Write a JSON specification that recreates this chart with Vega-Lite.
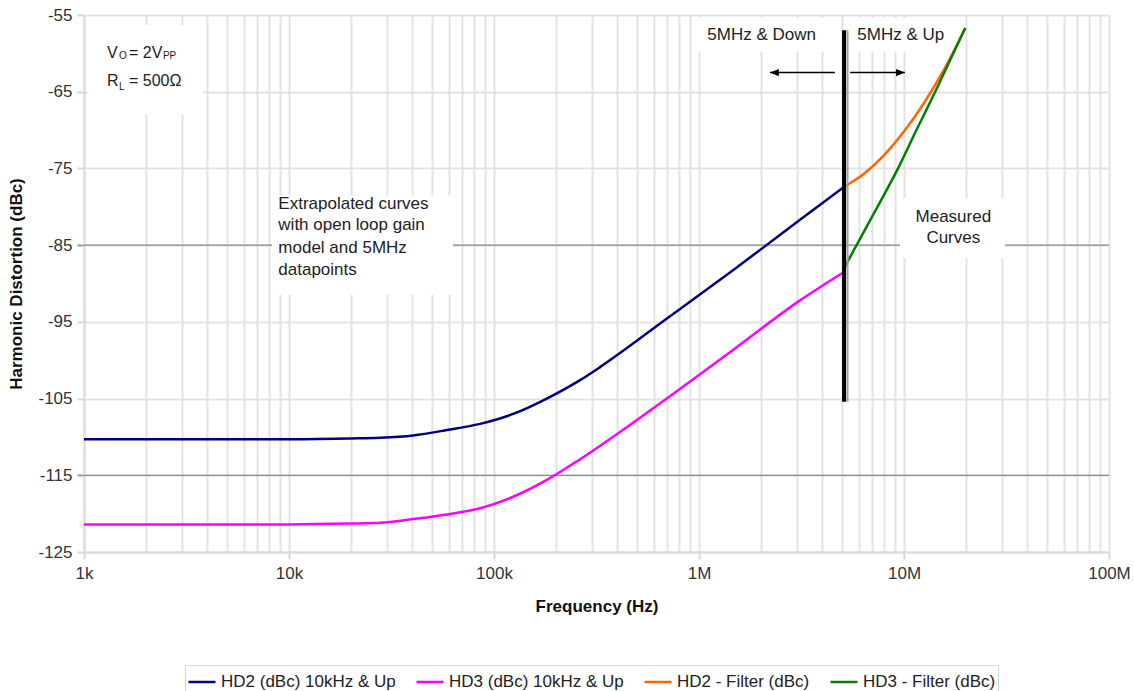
{
"$schema":"https://vega.github.io/schema/vega-lite/v6.json",
"width":1025,"height":537,
"autosize":{"type":"none"},
"padding":{"left":84,"top":15,"right":25,"bottom":139},
"background":"white",
"config":{"view":{"stroke":null},"font":"Liberation Sans"},
"datasets":{
"curves":[
{"series":"HD2 (dBc) 10kHz & Up","f":1000,"db":-110.3},
{"series":"HD2 (dBc) 10kHz & Up","f":3000,"db":-110.3},
{"series":"HD2 (dBc) 10kHz & Up","f":10000,"db":-110.3},
{"series":"HD2 (dBc) 10kHz & Up","f":20000,"db":-110.2},
{"series":"HD2 (dBc) 10kHz & Up","f":27800,"db":-110.1},
{"series":"HD2 (dBc) 10kHz & Up","f":40300,"db":-109.8},
{"series":"HD2 (dBc) 10kHz & Up","f":59000,"db":-109.1},
{"series":"HD2 (dBc) 10kHz & Up","f":85500,"db":-108.3},
{"series":"HD2 (dBc) 10kHz & Up","f":124000,"db":-107.0},
{"series":"HD2 (dBc) 10kHz & Up","f":181000,"db":-105.0},
{"series":"HD2 (dBc) 10kHz & Up","f":263000,"db":-102.6},
{"series":"HD2 (dBc) 10kHz & Up","f":329000,"db":-100.9},
{"series":"HD2 (dBc) 10kHz & Up","f":695000,"db":-94.6},
{"series":"HD2 (dBc) 10kHz & Up","f":1460000,"db":-88.3},
{"series":"HD2 (dBc) 10kHz & Up","f":3110000,"db":-81.7},
{"series":"HD2 (dBc) 10kHz & Up","f":5100000,"db":-77.4},
{"series":"HD3 (dBc) 10kHz & Up","f":1000,"db":-121.4},
{"series":"HD3 (dBc) 10kHz & Up","f":3000,"db":-121.4},
{"series":"HD3 (dBc) 10kHz & Up","f":10000,"db":-121.4},
{"series":"HD3 (dBc) 10kHz & Up","f":20000,"db":-121.3},
{"series":"HD3 (dBc) 10kHz & Up","f":27800,"db":-121.2},
{"series":"HD3 (dBc) 10kHz & Up","f":40300,"db":-120.7},
{"series":"HD3 (dBc) 10kHz & Up","f":59000,"db":-120.1},
{"series":"HD3 (dBc) 10kHz & Up","f":85500,"db":-119.3},
{"series":"HD3 (dBc) 10kHz & Up","f":124000,"db":-117.8},
{"series":"HD3 (dBc) 10kHz & Up","f":181000,"db":-115.6},
{"series":"HD3 (dBc) 10kHz & Up","f":263000,"db":-112.9},
{"series":"HD3 (dBc) 10kHz & Up","f":610000,"db":-106.1},
{"series":"HD3 (dBc) 10kHz & Up","f":1460000,"db":-98.7},
{"series":"HD3 (dBc) 10kHz & Up","f":3110000,"db":-92.2},
{"series":"HD3 (dBc) 10kHz & Up","f":5100000,"db":-88.5},
{"series":"HD2 - Filter (dBc)","f":5100000,"db":-77.4},
{"series":"HD2 - Filter (dBc)","f":6380000,"db":-75.7},
{"series":"HD2 - Filter (dBc)","f":7980000,"db":-73.3},
{"series":"HD2 - Filter (dBc)","f":10000000,"db":-70.2},
{"series":"HD2 - Filter (dBc)","f":12500000,"db":-66.5},
{"series":"HD2 - Filter (dBc)","f":15700000,"db":-62.1},
{"series":"HD2 - Filter (dBc)","f":19900000,"db":-56.7},
{"series":"HD3 - Filter (dBc)","f":5100000,"db":-88.0},
{"series":"HD3 - Filter (dBc)","f":6820000,"db":-81.8},
{"series":"HD3 - Filter (dBc)","f":9350000,"db":-75.0},
{"series":"HD3 - Filter (dBc)","f":11500000,"db":-70.0},
{"series":"HD3 - Filter (dBc)","f":14200000,"db":-65.0},
{"series":"HD3 - Filter (dBc)","f":19900000,"db":-56.7}
],
"boxes":[
{"f1":1050,"f2":3800,"d1":-56.3,"d2":-68.0},
{"f1":8260,"f2":63000,"d1":-78.5,"d2":-91.5},
{"f1":9550000,"f2":31100000,"d1":-78.9,"d2":-86.7},
{"f1":935000,"f2":4770000,"d1":-55.4,"d2":-59.8},
{"f1":5330000,"f2":18700000,"d1":-55.4,"d2":-59.8}
],
"rules":[{"db":-85},{"db":-115}],
"vline":[{"f":5100000,"d1":-57.0,"d2":-105.4}],
"arrows":[
{"f1":2220000,"f2":4600000,"db":-62.5,"dir":"left"},
{"f1":5460000,"f2":10100000,"db":-62.5,"dir":"right"}
],
"notes":[
{"t":"5MHz & Down","f":2020000,"db":-57.6,"g":"center"},
{"t":"5MHz & Up","f":9640000,"db":-57.6,"g":"center"},
{"t":"Measured","f":17400000,"db":-81.3,"g":"center"},
{"t":"Curves","f":17400000,"db":-84.1,"g":"center"},
{"t":"Extrapolated curves","f":8870,"db":-79.6,"g":"left"},
{"t":"with open loop gain","f":8870,"db":-82.4,"g":"left"},
{"t":"model and 5MHz","f":8870,"db":-85.4,"g":"left"},
{"t":"datapoints","f":8870,"db":-88.3,"g":"left"},
{"t":"V","f":1295,"db":-59.9,"g":"main"},
{"t":"O","f":1480,"db":-60.4,"g":"sub"},
{"t":"= 2V","f":1658,"db":-59.9,"g":"main"},
{"t":"PP","f":2427,"db":-60.4,"g":"sub"},
{"t":"R","f":1295,"db":-63.6,"g":"main"},
{"t":"L","f":1480,"db":-64.4,"g":"sub"},
{"t":"= 500Ω","f":1658,"db":-63.6,"g":"main"}
]
},
"layer":[
{"data":{"name":"rules"},"mark":{"type":"rule","color":"#8c8c8c","strokeWidth":1.3},
 "encoding":{"y":{"field":"db","type":"quantitative","scale":{"domain":[-125,-55],"nice":false,"zero":false}}}},
{"data":{"name":"boxes"},"mark":{"type":"rect","color":"white"},
 "encoding":{"x":{"field":"f1","type":"quantitative","scale":{"type":"log","domain":[1000,100000000],"nice":false}},"x2":{"field":"f2"},
 "y":{"field":"d1","type":"quantitative","scale":{"domain":[-125,-55],"nice":false,"zero":false}},"y2":{"field":"d2"}}},
{"data":{"name":"curves"},"mark":{"type":"line","strokeWidth":2.5,"interpolate":"monotone"},
 "encoding":{
 "x":{"field":"f","type":"quantitative","scale":{"type":"log","domain":[1000,100000000],"nice":false},
  "axis":{"values":[1000,2000,3000,4000,5000,6000,7000,8000,9000,10000,20000,30000,40000,50000,60000,70000,80000,90000,100000,200000,300000,400000,500000,600000,700000,800000,900000,1000000,2000000,3000000,4000000,5000000,6000000,7000000,8000000,9000000,10000000,20000000,30000000,40000000,50000000,60000000,70000000,80000000,90000000,100000000],
  "labelExpr":"datum.value==1000?'1k':datum.value==10000?'10k':datum.value==100000?'100k':datum.value==1000000?'1M':datum.value==10000000?'10M':datum.value==100000000?'100M':''",
  "grid":true,"gridColor":"#e3e3e3","gridWidth":2,
  "tickSize":7,"tickColor":"#d6d6d6","tickWidth":2,
  "tickOpacity":{"condition":{"test":"indexof([1000,10000,100000,1000000,10000000,100000000], datum.value) >= 0","value":1},"value":0},
  "domainColor":"#dcdcdc","domainWidth":2,
  "labelFontSize":17,"labelColor":"#333","labelPadding":6,"labelFlush":false,"labelOverlap":false,
  "title":"Frequency (Hz)","titleFontSize":17,"titleFontWeight":"bold","titleColor":"#111","titlePadding":17}},
 "y":{"field":"db","type":"quantitative","scale":{"domain":[-125,-55],"nice":false,"zero":false},
  "axis":{"values":[-125,-115,-105,-95,-85,-75,-65,-55],
  "labelExpr":"'' + datum.value",
  "grid":true,"gridColor":"#e3e3e3","gridWidth":2,
  "tickSize":7,"tickWidth":2,
  "tickColor":{"condition":{"test":"datum.value==-85 || datum.value==-115","value":"#999999"},"value":"#d6d6d6"},
  "domainColor":"#dcdcdc","domainWidth":2,
  "labelFontSize":17,"labelColor":"#333","labelPadding":5,"labelFlush":false,
  "title":"Harmonic Distortion (dBc)","titleFontSize":17,"titleFontWeight":"bold","titleColor":"#111","titlePadding":12}},
 "color":{"field":"series","type":"nominal",
  "scale":{"domain":["HD2 (dBc) 10kHz & Up","HD3 (dBc) 10kHz & Up","HD2 - Filter (dBc)","HD3 - Filter (dBc)"],"range":["#000080","#ff00ff","#ff6600","#008000"]},
  "legend":{"orient":"none","legendX":101,"legendY":650,"direction":"horizontal","title":null,
   "symbolType":"stroke","symbolSize":729,"symbolStrokeWidth":2.5,
   "labelFontSize":17,"labelColor":"#222","labelOffset":4,"columnPadding":15,"padding":2,
   "strokeColor":"#d6d6d6","fillColor":"white","labelLimit":300}}
 }},
{"data":{"name":"vline"},"mark":{"type":"rule","color":"#a0a0a0","strokeWidth":2,"xOffset":3.5},
 "encoding":{"x":{"field":"f","type":"quantitative","scale":{"type":"log","domain":[1000,100000000],"nice":false}},
 "y":{"field":"d1","type":"quantitative","scale":{"domain":[-125,-55],"nice":false,"zero":false}},"y2":{"field":"d2"}}},
{"data":{"name":"vline"},"mark":{"type":"rule","color":"black","strokeWidth":4},
 "encoding":{"x":{"field":"f","type":"quantitative","scale":{"type":"log","domain":[1000,100000000],"nice":false}},
 "y":{"field":"d1","type":"quantitative","scale":{"domain":[-125,-55],"nice":false,"zero":false}},"y2":{"field":"d2"}}},
{"data":{"name":"arrows"},"mark":{"type":"rule","color":"black","strokeWidth":1.6},
 "encoding":{"x":{"field":"f1","type":"quantitative","scale":{"type":"log","domain":[1000,100000000],"nice":false}},"x2":{"field":"f2"},
 "y":{"field":"db","type":"quantitative","scale":{"domain":[-125,-55],"nice":false,"zero":false}}}},
{"data":{"name":"arrows"},"transform":[{"filter":"datum.dir=='left'"}],
 "mark":{"type":"point","shape":"M0,0L2.2,-0.9L2.2,0.9Z","filled":true,"color":"black","size":64,"opacity":1},
 "encoding":{"x":{"field":"f1","type":"quantitative","scale":{"type":"log","domain":[1000,100000000],"nice":false}},
 "y":{"field":"db","type":"quantitative","scale":{"domain":[-125,-55],"nice":false,"zero":false}}}},
{"data":{"name":"arrows"},"transform":[{"filter":"datum.dir=='right'"}],
 "mark":{"type":"point","shape":"M0,0L-2.2,-0.9L-2.2,0.9Z","filled":true,"color":"black","size":64,"opacity":1},
 "encoding":{"x":{"field":"f2","type":"quantitative","scale":{"type":"log","domain":[1000,100000000],"nice":false}},
 "y":{"field":"db","type":"quantitative","scale":{"domain":[-125,-55],"nice":false,"zero":false}}}},
{"data":{"name":"notes"},"transform":[{"filter":"datum.g=='center'"}],
 "mark":{"type":"text","align":"center","baseline":"middle","fontSize":17,"color":"#222","font":"Liberation Sans"},
 "encoding":{"text":{"field":"t"},"x":{"field":"f","type":"quantitative","scale":{"type":"log","domain":[1000,100000000],"nice":false}},
 "y":{"field":"db","type":"quantitative","scale":{"domain":[-125,-55],"nice":false,"zero":false}}}},
{"data":{"name":"notes"},"transform":[{"filter":"datum.g=='left'"}],
 "mark":{"type":"text","align":"left","baseline":"middle","fontSize":17,"color":"#222","font":"Liberation Sans"},
 "encoding":{"text":{"field":"t"},"x":{"field":"f","type":"quantitative","scale":{"type":"log","domain":[1000,100000000],"nice":false}},
 "y":{"field":"db","type":"quantitative","scale":{"domain":[-125,-55],"nice":false,"zero":false}}}},
{"data":{"name":"notes"},"transform":[{"filter":"datum.g=='main'"}],
 "mark":{"type":"text","align":"left","baseline":"middle","fontSize":16,"color":"#222","font":"Liberation Sans"},
 "encoding":{"text":{"field":"t"},"x":{"field":"f","type":"quantitative","scale":{"type":"log","domain":[1000,100000000],"nice":false}},
 "y":{"field":"db","type":"quantitative","scale":{"domain":[-125,-55],"nice":false,"zero":false}}}},
{"data":{"name":"notes"},"transform":[{"filter":"datum.g=='sub'"}],
 "mark":{"type":"text","align":"left","baseline":"middle","fontSize":10,"color":"#222","font":"Liberation Sans"},
 "encoding":{"text":{"field":"t"},"x":{"field":"f","type":"quantitative","scale":{"type":"log","domain":[1000,100000000],"nice":false}},
 "y":{"field":"db","type":"quantitative","scale":{"domain":[-125,-55],"nice":false,"zero":false}}}}
]
}
